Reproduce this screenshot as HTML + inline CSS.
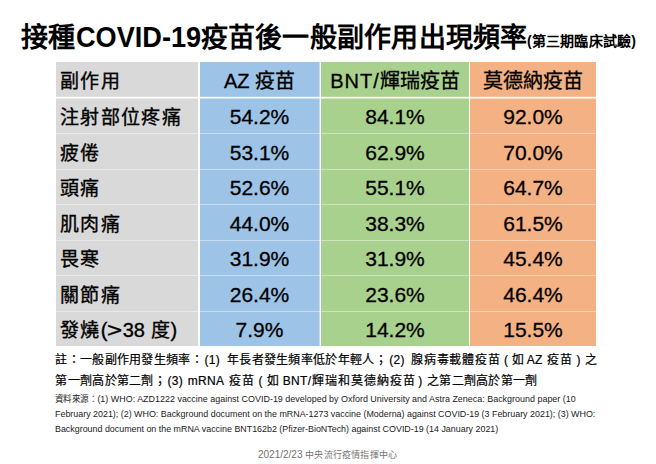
<!DOCTYPE html>
<html lang="zh-TW">
<head>
<meta charset="utf-8">
<style>
html,body{margin:0;padding:0;background:#fff;}
body{width:656px;height:464px;position:relative;overflow:hidden;font-family:"Liberation Sans",sans-serif;color:#000;}
.a{position:absolute;white-space:nowrap;}
.tt{font-weight:700;line-height:36px;top:20px;font-size:27px;}
.c{position:absolute;}
.g{background:#d9d9d9;}
.b{background:#9dc3e6;}
.gr{background:#a9d18e;}
.o{background:#f4b183;}
.sep{position:absolute;left:56px;width:540px;height:1px;background:rgba(255,255,255,0.42);}
.t{position:absolute;left:60.2px;font-size:19px;letter-spacing:1.3px;line-height:35px;white-space:nowrap;-webkit-text-stroke:0.35px #000;}
.n{position:absolute;font-size:21px;line-height:35px;text-align:center;white-space:nowrap;-webkit-text-stroke:0.3px #000;}
.c2{left:200px;width:119px;}
.c3{left:321px;width:148px;}
.c4{left:470px;width:126px;}
.note{font-size:12px;line-height:20px;letter-spacing:0.3px;-webkit-text-stroke:0.2px #000;}
.src{left:56px;font-size:9.5px;line-height:14px;color:#1a1a1a;transform-origin:0 0;}
.fp{display:inline-block;width:12.3px;text-align:center;}
.foot{left:258px;top:448px;font-size:10px;color:#767171;line-height:14px;}
</style>
</head>
<body>
<div class="a tt" style="left:21px">接種</div>
<div class="a tt" style="left:75.5px;top:19px;font-size:29px;transform:scaleX(0.936);transform-origin:0 0">COVID-19</div>
<div class="a tt" style="left:200.5px;letter-spacing:0.25px">疫苗後一般副作用出現頻率</div>
<div class="a" style="left:527px;top:31px;font-size:14px;line-height:20px;font-weight:700;letter-spacing:0.2px">(第三期臨床試驗)</div>

<!-- column backgrounds -->
<div class="c g" style="left:56px;top:62px;width:142px;height:284px"></div>
<div class="c b" style="left:200px;top:62px;width:120px;height:284px"></div>
<div class="c gr" style="left:321px;top:62px;width:148px;height:284px"></div>
<div class="c o" style="left:470px;top:62px;width:126px;height:284px"></div>
<!-- header separator (white) -->
<div class="c" style="left:56px;top:97px;width:540px;height:1px;background:#fff"></div>
<div class="c" style="left:56px;top:98px;width:540px;height:1px;background:rgba(255,255,255,0.5)"></div>
<div class="c" style="left:56px;top:96px;width:540px;height:1px;background:rgba(255,255,255,0.2)"></div>
<div class="c" style="left:319px;top:62px;width:1px;height:284px;background:rgba(255,255,255,0.4)"></div>
<div class="c" style="left:320px;top:62px;width:1px;height:284px;background:#fff"></div>
<!-- row separators -->
<div class="sep" style="top:133px"></div>
<div class="sep" style="top:169px"></div>
<div class="sep" style="top:204px"></div>
<div class="sep" style="top:240px"></div>
<div class="sep" style="top:275px"></div>
<div class="sep" style="top:311px"></div>

<!-- header row -->
<div class="t" style="top:64px">副作用</div>
<div class="n c2" style="top:64px;font-size:20px">AZ 疫苗</div>
<div class="n c3" style="top:64px;font-size:20px"><span style="letter-spacing:1px">BNT/</span>輝瑞疫苗</div>
<div class="n c4" style="top:64px;font-size:20px">莫德納疫苗</div>

<div class="t" style="top:100px">注射部位疼痛</div>
<div class="n c2" style="top:98.5px">54.2%</div>
<div class="n c3" style="top:98.5px">84.1%</div>
<div class="n c4" style="top:98.5px">92.0%</div>

<div class="t" style="top:136px">疲倦</div>
<div class="n c2" style="top:134.5px">53.1%</div>
<div class="n c3" style="top:134.5px">62.9%</div>
<div class="n c4" style="top:134.5px">70.0%</div>

<div class="t" style="top:171px">頭痛</div>
<div class="n c2" style="top:169.5px">52.6%</div>
<div class="n c3" style="top:169.5px">55.1%</div>
<div class="n c4" style="top:169.5px">64.7%</div>

<div class="t" style="top:207px">肌肉痛</div>
<div class="n c2" style="top:205.5px">44.0%</div>
<div class="n c3" style="top:205.5px">38.3%</div>
<div class="n c4" style="top:205.5px">61.5%</div>

<div class="t" style="top:242px">畏寒</div>
<div class="n c2" style="top:240.5px">31.9%</div>
<div class="n c3" style="top:240.5px">31.9%</div>
<div class="n c4" style="top:240.5px">45.4%</div>

<div class="t" style="top:278px">關節痛</div>
<div class="n c2" style="top:276.5px">26.4%</div>
<div class="n c3" style="top:276.5px">23.6%</div>
<div class="n c4" style="top:276.5px">46.4%</div>

<div class="t" style="top:313px">發燒<span style="letter-spacing:0;font-size:20px">(<span style="display:inline-block;transform:scaleX(1.3);transform-origin:0 0;margin-right:3.5px">&gt;</span>38<span style="margin-left:1px"> </span><span style="font-size:19px">度</span>)</span></div>
<div class="n c2" style="top:311.5px">7.9%</div>
<div class="n c3" style="top:311.5px">14.2%</div>
<div class="n c4" style="top:311.5px">15.5%</div>

<!--NOTES-->
<div class="a note" id="g0" style="left:55.4px;top:349.8px">註：一般副作用發生頻率：</div>
<div class="a note" id="g1" style="left:204.4px;top:349.8px">(1)</div>
<div class="a note" id="g2" style="left:227.0px;top:349.8px">年長者發生頻率低於年輕人；</div>
<div class="a note" id="g3" style="left:389.3px;top:349.8px">(2)</div>
<div class="a note" id="g4" style="left:411.2px;top:349.8px;letter-spacing:0.75px">腺病毒載體疫苗</div>
<div class="a note" id="g5" style="left:504.0px;top:349.8px">(</div>
<div class="a note" id="g6" style="left:512.0px;top:349.8px">如</div>
<div class="a note" id="g7" style="left:526.7px;top:349.8px">AZ</div>
<div class="a note" id="g8" style="left:547.4px;top:349.8px">疫苗</div>
<div class="a note" id="g9" style="left:576.6px;top:349.8px">)</div>
<div class="a note" id="g10" style="left:585.0px;top:349.8px">之</div>
<div class="a note" id="g11" style="left:55.4px;top:371.2px">第一劑高於第二劑；</div>
<div class="a note" id="g12" style="left:167.4px;top:371.2px">(3)</div>
<div class="a note" id="g13" style="left:187.8px;top:371.2px">mRNA</div>
<div class="a note" id="g14" style="left:229.3px;top:371.2px">疫苗</div>
<div class="a note" id="g15" style="left:258.5px;top:371.2px">(</div>
<div class="a note" id="g16" style="left:266.8px;top:371.2px">如</div>
<div class="a note" id="g17" style="left:282.8px;top:371.2px">BNT/</div>
<div class="a note" id="g18" style="left:312.3px;top:371.2px;letter-spacing:0.95px">輝瑞和莫德納疫苗</div>
<div class="a note" id="g19" style="left:418.2px;top:371.2px">)</div>
<div class="a note" id="g20" style="left:427.0px;top:371.2px">之第二劑高於第一劑</div>

<!--/NOTES-->

<div class="a src" id="s1" style="top:391.8px;left:55px;transform:scaleX(0.9417)"><span style="font-size:9px">資料來源：</span>(1) WHO: AZD1222 vaccine against COVID-19 developed by Oxford University and Astra Zeneca: Background paper (10</div>
<div class="a src" id="s2" style="top:406.8px;left:55px;transform:scaleX(0.9362)">February 2021); (2) WHO: Background document on the mRNA-1273 vaccine (Moderna) against COVID-19 (3 February 2021); (3) WHO:</div>
<div class="a src" id="s3" style="top:421.6px;left:55px;transform:scaleX(0.9358)">Background document on the mRNA vaccine BNT162b2 (Pfizer-BioNTech) against COVID-19 (14 January 2021)</div>

<div class="a foot" id="f1">2021/2/23 <span style="font-size:9px;letter-spacing:0.2px">中央流行疫情指揮中心</span></div>
</body>
</html>
